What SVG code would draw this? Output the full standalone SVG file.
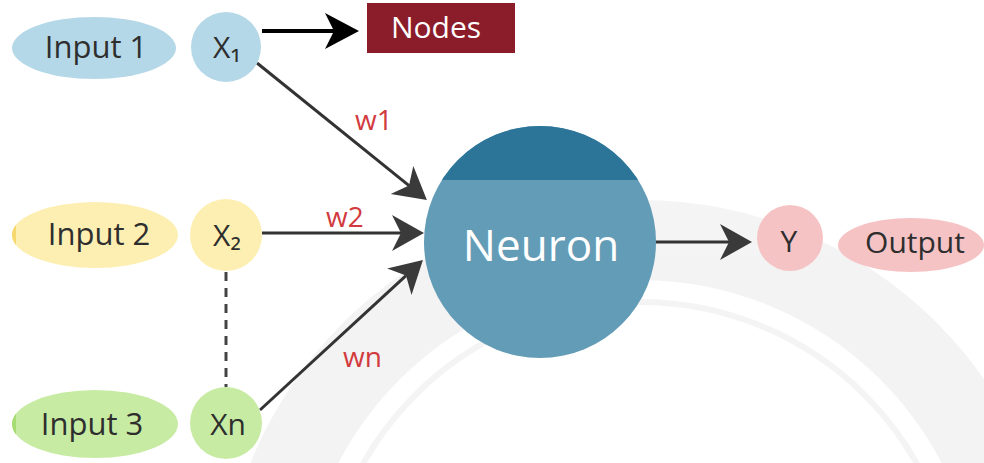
<svg xmlns="http://www.w3.org/2000/svg" width="984" height="463" viewBox="0 0 984 463">
  <defs>
    <style>
      .lbl { font-family: "Open Sans", "Noto Sans", "DejaVu Sans", sans-serif; fill: #2e2e2e; text-anchor: middle; }
      .w { font-family: "Open Sans", "Noto Sans", sans-serif; fill: #d23a3d; font-size: 28px; }
      .conn { fill: none; stroke: #333333; stroke-width: 3; }
    </style>
    <marker id="ah" markerUnits="userSpaceOnUse" markerWidth="40" markerHeight="40" refX="9" refY="18" orient="auto">
      <path d="M0,0 L32,18 L0,36 L9,18 Z" fill="#3a3a3a"/>
    </marker>
    <marker id="ahb" markerUnits="userSpaceOnUse" markerWidth="40" markerHeight="40" refX="9" refY="18" orient="auto">
      <path d="M0,0 L34,18 L0,36 L9,18 Z" fill="#000000"/>
    </marker>
    <clipPath id="c2"><ellipse cx="95" cy="235" rx="83" ry="33"/></clipPath>
    <clipPath id="c3"><ellipse cx="95" cy="424" rx="83" ry="34"/></clipPath>
    <clipPath id="cn"><circle cx="540" cy="242" r="116"/></clipPath>
  </defs>

  <rect width="984" height="463" fill="#ffffff"/>

  <g id="watermark" opacity="0.6">
    <path d="M 220 620 A 420 420 0 0 1 1060 620 L 980 620 A 340 340 0 0 0 300 620 Z" fill="#ececec"/>
    <circle cx="640" cy="620" r="318" fill="none" stroke="#eeeeee" stroke-width="6"/>
  </g>

  <g id="connectors">
    <line x1="262" y1="31" x2="334" y2="31" stroke="#000" stroke-width="4" marker-end="url(#ahb)"/>
    <line x1="257" y1="63" x2="409" y2="185.6" class="conn" stroke="#111" marker-end="url(#ah)"/>
    <line x1="262" y1="233" x2="401" y2="233" class="conn" marker-end="url(#ah)"/>
    <line x1="260" y1="410" x2="406" y2="275.6" class="conn" marker-end="url(#ah)"/>
    <line x1="655" y1="242" x2="729" y2="242" class="conn" marker-end="url(#ah)"/>
    <line x1="226" y1="272" x2="226" y2="387" stroke="#444" stroke-width="3" stroke-dasharray="9 7"/>
    <text class="w" x="355" y="130">w1</text>
    <text class="w" x="326" y="227">w2</text>
    <text class="w" x="343" y="367">wn</text>
  </g>

  <g id="input1">
    <ellipse cx="94" cy="48" rx="82" ry="31" fill="#b4d8e7"/>
    <text class="lbl" x="96" y="58" font-size="31">Input 1</text>
  </g>
  <g id="x1">
    <circle cx="226" cy="47" r="35" fill="#b4d8e7"/>
    <text class="lbl" x="227" y="58" font-size="30">X₁</text>
  </g>
  <g id="nodes">
    <rect x="367" y="3" width="148" height="50" fill="#8b1c2a"/>
    <text x="436" y="38" font-family="Open Sans, Noto Sans, sans-serif" font-size="30" fill="#ffffff" text-anchor="middle">Nodes</text>
  </g>

  <g id="input2">
    <ellipse cx="95" cy="235" rx="83" ry="33" fill="#fdeeb2"/>
    <rect x="10" y="200" width="6" height="70" fill="#f6d96e" clip-path="url(#c2)"/>
    <text class="lbl" x="99" y="245" font-size="31">Input 2</text>
  </g>
  <g id="x2">
    <circle cx="226" cy="235" r="36" fill="#fdeeb2"/>
    <text class="lbl" x="227" y="246" font-size="30">X₂</text>
  </g>

  <g id="input3">
    <ellipse cx="95" cy="424" rx="83" ry="34" fill="#c7eba3"/>
    <rect x="10" y="388" width="6" height="72" fill="#a6dc73" clip-path="url(#c3)"/>
    <text class="lbl" x="92" y="435" font-size="31">Input 3</text>
  </g>
  <g id="xn">
    <circle cx="226" cy="423" r="36" fill="#c7eba3"/>
    <text class="lbl" x="228" y="435" font-size="30">Xn</text>
  </g>

  <g id="neuron">
    <circle cx="540" cy="242" r="116" fill="#639cb6"/>
    <rect x="420" y="120" width="240" height="60" fill="#2c7599" clip-path="url(#cn)"/>
    <text x="541" y="261" font-family="Open Sans, Noto Sans, sans-serif" font-size="44" fill="#ffffff" text-anchor="middle">Neuron</text>
  </g>

  <g id="y">
    <circle cx="790" cy="238" r="33" fill="#f6c3c5"/>
    <text class="lbl" x="789" y="252" font-size="30">Y</text>
  </g>
  <g id="output">
    <ellipse cx="911" cy="245" rx="73" ry="27" fill="#f6c3c5"/>
    <text class="lbl" x="915" y="253" font-size="30">Output</text>
  </g>
</svg>
